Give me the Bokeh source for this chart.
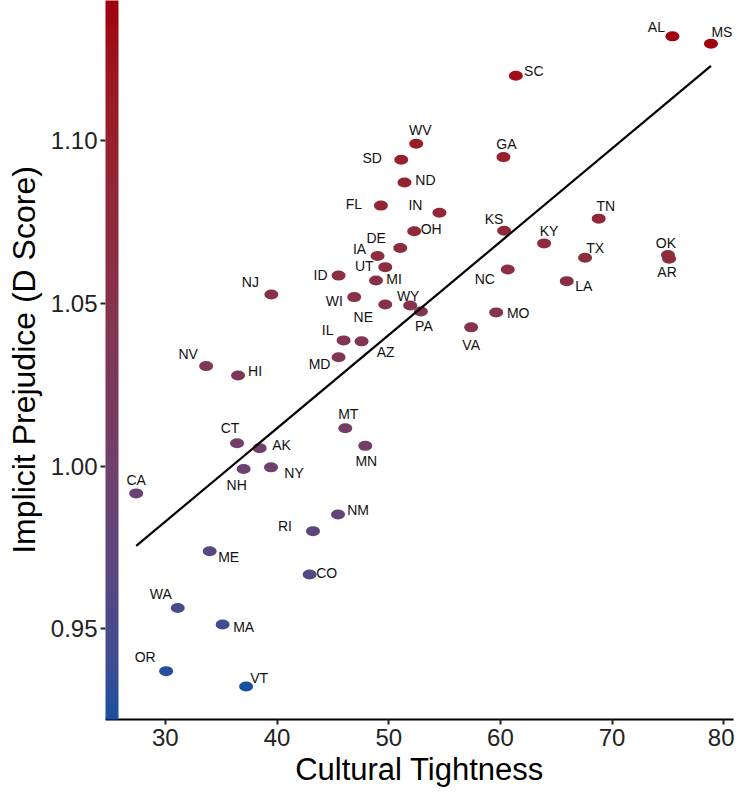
import numpy as np
from bokeh.plotting import figure
from bokeh.models import (ColumnDataSource, LinearColorMapper, ColorBar, FixedTicker,
                          Range1d, NumeralTickFormatter)
from bokeh.core.properties import value
from bokeh.embed import file_html
from bokeh.resources import INLINE

# ---------------- data ----------------
states = ["AL", "MS", "SC", "WV", "SD", "GA", "ND", "FL", "IN", "TN",
          "KS", "OH", "DE", "KY", "IA", "TX", "OK", "AR", "UT", "NC",
          "MI", "LA", "ID", "NJ", "WI", "WY", "NE", "PA", "MO", "VA",
          "IL", "AZ", "MD", "NV", "HI", "MT", "CT", "AK", "MN", "NH",
          "NY", "CA", "NM", "RI", "ME", "CO", "WA", "MA", "OR", "VT"]
tightness = [75.40, 78.85, 61.38, 52.46, 51.12, 60.27, 51.41, 49.30, 54.54, 68.80,
             60.33, 52.28, 51.03, 63.91, 49.00, 67.58, 75.00, 75.10, 49.69, 60.66,
             48.86, 65.94, 45.51, 39.49, 46.91, 51.92, 49.69, 52.88, 59.62, 57.38,
             45.96, 47.57, 45.51, 33.65, 36.51, 46.11, 36.42, 38.44, 47.90, 37.01,
             39.46, 27.39, 45.46, 43.22, 33.97, 42.92, 31.11, 35.13, 30.07, 37.23]
d_score = [1.1320, 1.1297, 1.1199, 1.0990, 1.0941, 1.0949, 1.0871, 1.0800, 1.0778, 1.0760,
           1.0723, 1.0721, 1.0670, 1.0684, 1.0645, 1.0640, 1.0648, 1.0637, 1.0611, 1.0604,
           1.0570, 1.0568, 1.0585, 1.0527, 1.0519, 1.0493, 1.0496, 1.0475, 1.0472, 1.0426,
           1.0386, 1.0383, 1.0334, 1.0307, 1.0278, 1.0116, 1.0070, 1.0055, 1.0062, 0.9991,
           0.9996, 0.9916, 0.9851, 0.9800, 0.9738, 0.9667, 0.9564, 0.9513, 0.9370, 0.9323]
x_ticks = [30, 40, 50, 60, 70, 80]
y_ticks = [0.95, 1.00, 1.05, 1.10]
x_title = "Cultural Tightness"
y_title = "Implicit Prejudice (D Score)"

# label placement (screen px, relative to the point; +dy is downward)
label_offsets = {
    "AL": (-16, -9), "MS": (11, -12), "SC": (18, -5), "WV": (4, -14), "SD": (-29, -2),
    "GA": (3, -13), "ND": (21, -3), "FL": (-27, -2), "IN": (-24, -8), "TN": (7, -13),
    "KS": (-10, -12), "OH": (17, -2), "DE": (-24, -10), "KY": (5, -12), "IA": (-18, -7),
    "TX": (10, -10), "OK": (-2, -12), "AR": (-2, 13), "UT": (-21, -1), "NC": (-23, 10),
    "MI": (18, -1), "LA": (17, 5), "ID": (-18, -1), "NJ": (-21, -12), "WI": (-20, 4),
    "WY": (-2, -10), "NE": (-22, 12), "PA": (3, 15), "MO": (22, 1), "VA": (0, 18),
    "IL": (-16, -10), "AZ": (24, 11), "MD": (-19, 7), "NV": (-18, -12), "HI": (17, -5),
    "MT": (3, -14), "CT": (-7, -15), "AK": (22, -3), "MN": (1, 15), "NH": (-7, 16),
    "NY": (23, 6), "CA": (0, -13), "NM": (20, -5), "RI": (-28, -5), "ME": (19, 6),
    "CO": (17, -1), "WA": (-17, -14), "MA": (21, 2), "OR": (-21, -14), "VT": (13, -8),
}

LOW_COLOR = "#17509f"
HIGH_COLOR = "#a0000f"


# ---------------- Lab gradient palette ----------------
def _hex_to_rgb(h):
    h = h.lstrip("#")
    return np.array([int(h[i:i + 2], 16) for i in (0, 2, 4)], dtype=float) / 255.0


def _rgb_to_lab(rgb):
    lin = np.where(rgb <= 0.04045, rgb / 12.92, ((rgb + 0.055) / 1.055) ** 2.4)
    M = np.array([[0.4124564, 0.3575761, 0.1804375],
                  [0.2126729, 0.7151522, 0.0721750],
                  [0.0193339, 0.1191920, 0.9503041]])
    xyz = M @ lin / np.array([0.95047, 1.0, 1.08883])
    f = np.where(xyz > 0.008856, np.cbrt(xyz), 7.787 * xyz + 16 / 116)
    return np.array([116 * f[1] - 16, 500 * (f[0] - f[1]), 200 * (f[1] - f[2])])


def _lab_to_hex(lab):
    L, a, b = lab
    fy = (L + 16) / 116
    fx = fy + a / 500
    fz = fy - b / 200
    f = np.array([fx, fy, fz])
    xyz = np.where(f ** 3 > 0.008856, f ** 3, (f - 16 / 116) / 7.787)
    xyz = xyz * np.array([0.95047, 1.0, 1.08883])
    Minv = np.array([[3.2404542, -1.5371385, -0.4985314],
                     [-0.9692660, 1.8760108, 0.0415560],
                     [0.0556434, -0.2040259, 1.0572252]])
    lin = np.clip(Minv @ xyz, 0, 1)
    rgb = np.where(lin <= 0.0031308, 12.92 * lin, 1.055 * lin ** (1 / 2.4) - 0.055)
    rgb = np.clip(np.round(rgb * 255), 0, 255).astype(int)
    return "#%02x%02x%02x" % tuple(rgb)


lab_lo = _rgb_to_lab(_hex_to_rgb(LOW_COLOR))
lab_hi = _rgb_to_lab(_hex_to_rgb(HIGH_COLOR))
palette = [_lab_to_hex(lab_lo + (lab_hi - lab_lo) * t) for t in np.linspace(0, 1, 256)]

mapper = LinearColorMapper(palette=palette, low=min(d_score), high=max(d_score))

# ---------------- figure ----------------
FONT = "Liberation Sans"
W, H = 734, 793
BL, BR, BT, BB = 105, 1, 0, 74
p = figure(width=W, height=H,
           x_range=Range1d(24.642, 80.868), y_range=Range1d(0.92214, 1.14301),
           output_backend="svg", toolbar_location=None,
           min_border_left=BL, min_border_right=BR, min_border_top=BT, min_border_bottom=BB)
p.outline_line_color = None
p.xgrid.grid_line_color = None
p.ygrid.grid_line_color = None
p.background_fill_color = "white"
p.border_fill_color = "white"

src = ColumnDataSource(dict(
    x=tightness, y=d_score, state=states,
    dx=[label_offsets[s][0] for s in states],
    dy=[label_offsets[s][1] for s in states],
))

# colour bar doubling as the y-axis line
cb = ColorBar(color_mapper=mapper, location=(0, 0), orientation="vertical",
              width=13, height=H - BT - BB, padding=0, margin=0,
              border_line_color=None, bar_line_color=None,
              ticker=FixedTicker(ticks=[]), major_tick_line_color=None,
              minor_tick_line_color=None, major_label_text_font_size="0px",
              background_fill_alpha=0)
p.add_layout(cb)

# points
p.ellipse(x="x", y="y", width=14, height=10, width_units="screen", height_units="screen",
          source=src, fill_color={"field": "y", "transform": mapper}, line_color=None)

# regression line
slope, intercept = np.polyfit(tightness, d_score, 1)
xs = [min(tightness), max(tightness)]
p.line(xs, [slope * v + intercept for v in xs], line_color="black", line_width=2.2)

# state labels
p.text(x="x", y="y", text="state", x_offset="dx", y_offset="dy", source=src,
       text_font=value(FONT), text_font_size="14px", text_color="#111111",
       text_align="center", text_baseline="middle")

# axes
xa = p.xaxis[0]
xa.ticker = FixedTicker(ticks=x_ticks)
xa.axis_line_width = 2
xa.axis_line_color = "black"
xa.major_tick_line_width = 2
xa.major_tick_line_color = "#222222"
xa.major_tick_in = 0
xa.major_tick_out = 5
xa.minor_tick_line_color = None
xa.major_label_text_font = FONT
xa.major_label_text_font_size = "24px"
xa.major_label_text_color = "#222222"
xa.major_label_standoff = 4
xa.axis_label = x_title
xa.axis_label_text_font = FONT
xa.axis_label_text_font_size = "31px"
xa.axis_label_text_font_style = "normal"
xa.axis_label_text_color = "black"
xa.axis_label_standoff = 3

ya = p.yaxis[0]
ya.ticker = FixedTicker(ticks=y_ticks)
ya.formatter = NumeralTickFormatter(format="0.00")
ya.axis_line_color = None
ya.major_tick_line_width = 2
ya.major_tick_line_color = "#222222"
ya.major_tick_in = 0
ya.major_tick_out = 5
ya.minor_tick_line_color = None
ya.major_label_text_font = FONT
ya.major_label_text_font_size = "24px"
ya.major_label_text_color = "#222222"
ya.major_label_standoff = 3
ya.axis_label = y_title
ya.axis_label_text_font = FONT
ya.axis_label_text_font_size = "32px"
ya.axis_label_text_font_style = "normal"
ya.axis_label_text_color = "black"
ya.axis_label_standoff = 6

open("out.html", "w").write(file_html(p, INLINE))
